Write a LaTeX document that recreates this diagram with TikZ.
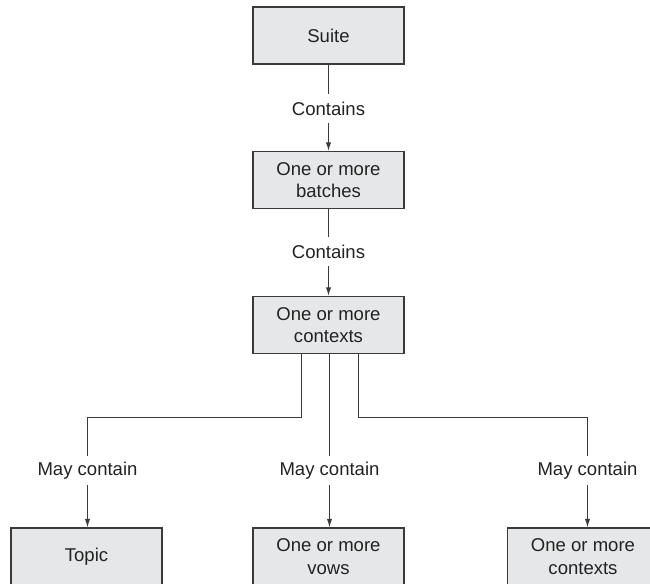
\documentclass[tikz,border=0pt]{standalone}
\usepackage{fontspec}
\setmainfont{Liberation Sans}
\usetikzlibrary{arrows.meta}
\definecolor{boxfill}{HTML}{E6E7E8}
\definecolor{linecol}{HTML}{3A3A3A}
\definecolor{txtcol}{HTML}{222222}
\begin{document}
\begin{tikzpicture}[x=0.75pt,y=-0.75pt,
  box/.style={draw=linecol, line width=0.8pt, fill=boxfill, rectangle,
    minimum width=113.25pt, minimum height=42.75pt, inner sep=0pt,
    align=center, text=txtcol, font=\fontsize{13.9pt}{17pt}\selectfont},
  lbl/.style={rectangle, inner sep=0pt, minimum height=21.75pt, text=txtcol,
    font=\fontsize{13.9pt}{17pt}\selectfont},
  conn/.style={draw=linecol, line width=0.75pt},
  arr/.style={conn, -{Latex[length=6.5pt,width=4pt]}}]
\useasboundingbox (0,0) rectangle (650,584);
\clip (0,0) rectangle (650,584);
\node[box] (suite) at (328.5,35.5) {Suite};
\node[box] (batches) at (328.5,180) {One or more\\batches};
\node[box] (contexts) at (328.5,325) {One or more\\contexts};
\node[box] (topic) at (86.5,556.5) {Topic};
\node[box] (vows) at (328.5,556.5) {One or more\\vows};
\node[box] (ctx2) at (583,556.5) {One or more\\contexts};

\node[lbl] (c1) at (328.5,108.5) {Contains};
\node[lbl] (c2) at (328.5,251.5) {Contains};
\node[lbl] (m1) at (87.5,470.5) {May contain};
\node[lbl] (m2) at (329.5,470.5) {May contain};
\node[lbl] (m3) at (587.5,470.5) {May contain};

\coordinate (s1) at (301.5,353);
\coordinate (s2) at (329.5,353);
\coordinate (s3) at (358.5,353);
\coordinate (j1) at (301.5,417.5);
\coordinate (j3) at (358.5,417.5);

\draw[conn] (suite) -- (c1);
\draw[arr] (c1) -- (batches);
\draw[conn] (batches) -- (c2);
\draw[arr] (c2) -- (contexts);

\draw[conn] (s1) -- (j1) -| (m1.north);
\draw[conn] (s2) -- (m2.north);
\draw[conn] (s3) -- (j3) -| (m3.north);

\draw[arr] (m1.south) -- (m1.south |- topic.north);
\draw[arr] (m2.south) -- (m2.south |- vows.north);
\draw[arr] (m3.south) -- (m3.south |- ctx2.north);
\end{tikzpicture}
\end{document}
